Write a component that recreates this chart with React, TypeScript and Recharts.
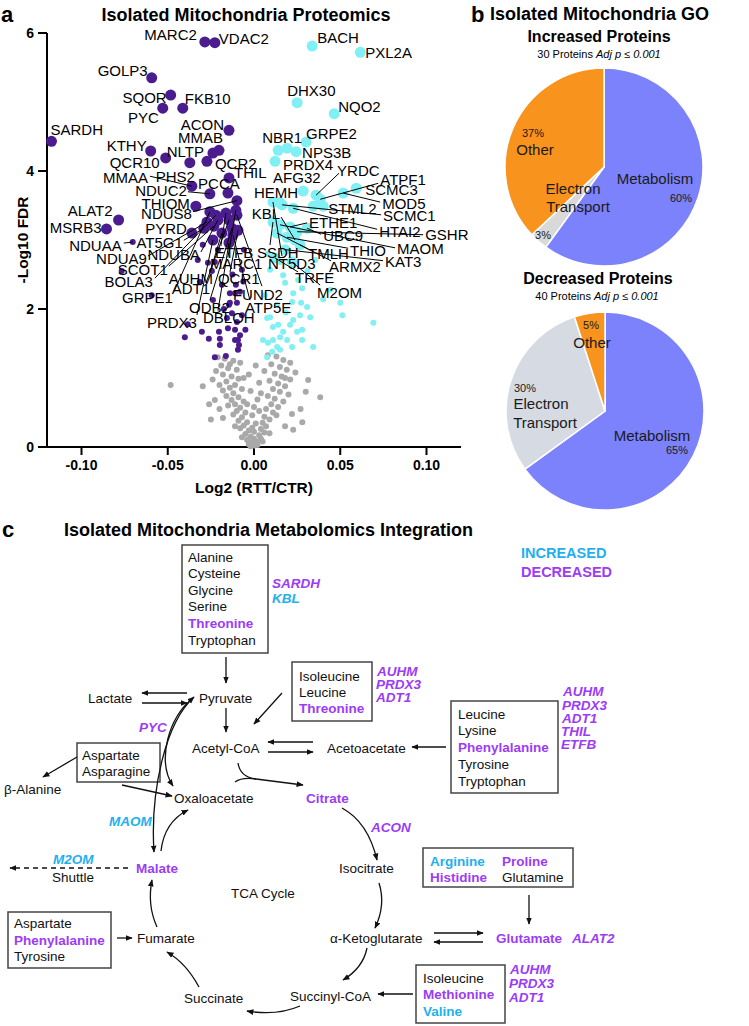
import React from 'react';
import { ScatterChart, Scatter, XAxis, YAxis, PieChart, Pie, Cell } from 'recharts';

const FONT = '"Liberation Sans", Arial, Helvetica, sans-serif';
const PURPLE = '#4a1c8e';
const CYAN = '#80f0f4';
const GRAY = '#a9a9a9';
const DEC = '#9b3cf7';
const INC = '#1fb0ee';

// ---------------- Panel a: volcano ----------------
const xTicks = [-0.1, -0.05, 0, 0.05, 0.1];
const yTicks = [0, 2, 4, 6];

const decreasedNamed: [string, number, number][] = [
  ['MARC2', -0.0285, 5.87], ['VDAC2', -0.0227, 5.86], ['GOLP3', -0.0593, 5.35],
  ['SQOR', -0.0483, 5.1], ['FKB10', -0.0413, 4.91], ['PYC', -0.0529, 4.91],
  ['SARDH', -0.1174, 4.43], ['ACON', -0.0145, 4.59], ['MMAB', -0.0203, 4.3],
  ['KTHY', -0.0599, 4.29], ['NLTP', -0.0238, 4.26], ['QCR10', -0.0512, 4.19],
  ['QCR2', -0.0273, 4.14], ['PHS2', -0.0372, 4.12], ['THIL', -0.0145, 3.9],
  ['MMAA', -0.036, 3.78], ['PCCA', -0.0151, 3.68], ['NDUC2', -0.0256, 3.67],
  ['NDUS8', -0.0099, 3.57], ['THIOM', -0.0337, 3.49], ['ALAT2', -0.0785, 3.29],
  ['MSRB3', -0.0855, 3.16], ['PYRD', -0.036, 3.1], ['NDUAA', -0.0703, 2.97],
  ['AT5G1', -0.0291, 3.17], ['NDUA9', -0.0273, 3.26], ['NDUBA', -0.0209, 3.29],
  ['SCOT1', -0.0233, 3.2], ['BOLA3', -0.0221, 3.36], ['AUHM', -0.0186, 3.1],
  ['GRPE1', -0.0256, 3.41], ['ADT1', -0.0145, 3.29], ['ODB2', -0.0128, 3.17],
  ['PRDX3', -0.0238, 3.0], ['DBLOH', -0.0145, 2.96], ['ETFB', -0.0163, 3.39],
  ['MARC1', -0.0105, 3.43], ['QCR1', -0.0093, 3.14], ['FUND2', -0.0099, 3.36],
  ['ATP5E', -0.0122, 3.07],
];

const increasedNamed: [string, number, number][] = [
  ['BACH', 0.0337, 5.81], ['PXL2A', 0.0616, 5.72], ['DHX30', 0.025, 4.99],
  ['NQO2', 0.0465, 4.83], ['GRPE2', 0.0302, 4.42], ['NBR1', 0.014, 4.3],
  ['NPS3B', 0.0244, 4.28], ['PRDX4', 0.0122, 4.14], ['YRDC', 0.036, 3.65],
  ['AFG32', 0.0151, 3.54], ['ATPF1', 0.0384, 3.59], ['HEMH', 0.0285, 3.71],
  ['SCMC3', 0.0593, 3.75], ['MOD5', 0.0517, 3.68], ['STML2', 0.0401, 3.49],
  ['SCMC1', 0.0163, 3.51], ['KBL', 0.0238, 3.0], ['ETHE1', 0.0209, 3.19],
  ['HTAI2', 0.0227, 3.46], ['GSHR', 0.025, 3.12], ['UBC9', 0.0308, 3.17],
  ['THIO', 0.0192, 3.04], ['MAOM', 0.0151, 3.22], ['TMLH', 0.0134, 3.1],
  ['SSDH', 0.011, 3.26], ['KAT3', 0.018, 2.86], ['NT5D3', 0.011, 3.55],
  ['ARMX2', 0.0267, 2.93], ['TRFE', 0.0122, 2.74], ['M2OM', 0.0221, 2.68],
  ['', 0.0192, 4.33], ['', 0.0343, 3.49],
];

const decreasedOther: [number, number][] = [
  [-0.0767, 2.55], [-0.0593, 2.2], [-0.0384, 1.78], [-0.0401, 1.59], [-0.0302, 1.67],
  [-0.0262, 1.57], [-0.0203, 1.67], [-0.0198, 1.57], [-0.0227, 1.3], [-0.0163, 1.32],
  [-0.0093, 1.41], [-0.0087, 1.48], [-0.0267, 2.67], [-0.014, 2.23], [-0.011, 2.23],
  [-0.014, 2.09], [-0.0099, 2.09], [-0.007, 1.91], [-0.0128, 1.94], [-0.0151, 1.72],
  [-0.011, 1.7], [-0.0093, 1.55], [-0.011, 1.55], [-0.0326, 2.71], [-0.0297, 2.93],
  [-0.0227, 2.68], [-0.0244, 2.55], [-0.0186, 2.35], [-0.0105, 2.35], [-0.0081, 2.25],
  [-0.0238, 2.13], [-0.0145, 2.06], [-0.0157, 1.87], [-0.0099, 1.81], [-0.0081, 1.62],
  [-0.0198, 1.48], [-0.0058, 2.86], [-0.007, 2.57], [-0.0314, 2.39], [-0.0209, 2.86],
  [-0.0175, 2.0], [-0.0062, 2.4], [-0.0125, 2.5], [-0.005, 1.7],
];

const increasedOther: [number, number][] = [
  [0.0076, 1.87], [0.0134, 2.06], [0.0169, 2.49], [0.0227, 2.23], [0.0273, 2.09],
  [0.0326, 1.88], [0.0343, 1.45], [0.0279, 1.7], [0.0192, 1.55], [0.0134, 1.45],
  [0.0076, 1.3], [0.011, 1.74], [0.0227, 1.84], [0.0169, 1.67], [0.0221, 1.45],
  [0.0279, 1.55], [0.011, 1.55], [0.0052, 1.55], [0.0151, 1.41], [0.018, 2.38],
  [0.05, 2.09], [0.0512, 1.91], [0.0692, 1.8], [0.0401, 2.14], [0.0279, 2.3],
  [0.0256, 2.42], [0.0221, 2.1], [0.0308, 2.03], [0.0267, 1.91], [0.025, 1.67],
  [0.0209, 1.77], [0.0093, 1.88], [0.014, 1.77], [0.0151, 1.59], [0.0105, 1.38],
  [0.0081, 1.51], [0.0093, 2.57], [0.0151, 2.68], [0.0355, 2.71], [0.0442, 2.28],
  [0.0062, 2.2], [0.0185, 1.95], [0.031, 2.55], [0.008, 2.8],
];

const unchanged: [number, number][] = [
  [-0.021, 1.3], [-0.017, 1.28], [-0.012, 1.25], [-0.008, 1.22], [-0.019, 1.18],
  [-0.015, 1.14], [-0.022, 1.1], [-0.01, 1.12], [-0.018, 1.05], [-0.013, 1.02],
  [-0.024, 0.98], [-0.009, 0.99], [-0.016, 0.95], [-0.02, 0.9], [-0.011, 0.9],
  [-0.014, 0.86], [-0.018, 0.82], [-0.007, 0.84], [-0.012, 0.78], [-0.016, 0.74],
  [-0.009, 0.72], [-0.013, 0.68], [-0.006, 0.66], [-0.011, 0.62], [-0.015, 0.6],
  [-0.008, 0.57], [-0.01, 0.52], [-0.005, 0.5], [-0.012, 0.47], [-0.007, 0.43],
  [-0.009, 0.38], [-0.004, 0.36], [-0.006, 0.31], [-0.008, 0.27], [-0.003, 0.24],
  [-0.005, 0.19], [-0.002, 0.15], [-0.004, 0.1], [-0.001, 0.07], [-0.003, 0.04],
  [0.0, 0.02], [-0.002, 0.01], [0.001, 0.05], [0.008, 1.33], [0.013, 1.31],
  [0.017, 1.26], [0.021, 1.22], [0.01, 1.2], [0.015, 1.16], [0.019, 1.12],
  [0.024, 1.08], [0.012, 1.06], [0.016, 1.02], [0.021, 0.98], [0.009, 0.96],
  [0.014, 0.92], [0.018, 0.88], [0.011, 0.84], [0.015, 0.8], [0.02, 0.76],
  [0.008, 0.74], [0.012, 0.7], [0.017, 0.66], [0.01, 0.62], [0.014, 0.58],
  [0.007, 0.55], [0.011, 0.5], [0.013, 0.46], [0.006, 0.44], [0.009, 0.4],
  [0.005, 0.35], [0.007, 0.3], [0.004, 0.26], [0.006, 0.21], [0.003, 0.17],
  [0.004, 0.12], [0.002, 0.08], [0.002, 0.03], [0.001, 1.18], [-0.003, 1.05],
  [0.003, 0.93], [-0.002, 0.81], [0.002, 0.69], [0.0, 0.58], [-0.001, 0.46],
  [0.003, 0.52], [0.001, 0.34], [0.0, 0.22], [-0.004, 0.62], [0.004, 0.78],
  [-0.0483, 0.9], [-0.0297, 0.88], [-0.0227, 0.68], [0.0227, 0.25], [0.0384, 0.72],
  [0.0314, 0.97], [0.027, 0.55], [0.03, 0.8], [-0.026, 0.62], [-0.025, 0.4],
  [0.028, 0.36], [0.018, 0.3], [-0.018, 0.42], [-0.02, 0.55], [0.022, 0.48],
  [-0.014, 1.2], [-0.006, 1.0], [0.006, 1.1], [0.018, 1.0], [-0.011, 0.3],
  [0.009, 0.2], [-0.007, 0.14], [0.005, 0.08], [0.0, 0.12], [-0.001, 0.28],
];

// label placement (pixel offsets from the point): dx, dy, anchor, leader start dx, dy
type LL = [number, number, 'start' | 'end' | 'middle', number?, number?];
const labelLayout: Record<string, LL> = {
  MARC2: [-8, -7, 'end'], VDAC2: [4, -4, 'start'], GOLP3: [-4, -7, 'end'], SQOR: [-4, 2, 'end'],
  FKB10: [2, -10, 'start'], PYC: [-4, 9, 'end'], SARDH: [-1, -12, 'start'], ACON: [-5, -6, 'end'],
  MMAB: [4, -13, 'end'], KTHY: [-4, -5, 'end'], NLTP: [-9, -2, 'end'], QCR10: [-6, 5, 'end'],
  QCR2: [8, 2, 'start'], PHS2: [5, 14, 'end'], THIL: [5, -5, 'start'], MMAA: [-44, -9, 'end', -42, -10],
  PCCA: [-9, -10, 'middle'], NDUC2: [-23, -3, 'end', -22, -2], NDUS8: [-45, 13, 'end', -44, 11],
  THIOM: [-6, -3, 'end'], ALAT2: [-6, -9, 'end'], MSRB3: [-5, -1, 'end'], PYRD: [-5, -5, 'end'],
  NDUAA: [-11, 3, 'end', -9, 1], AT5G1: [-21, 14, 'end', -20, 12], NDUA9: [-60, 36, 'end', -59, 34],
  NDUBA: [-18, 35, 'end', -17, 32], SCOT1: [-46, 43, 'end', -45, 40], BOLA3: [-63, 66, 'end', -61, 63],
  AUHM: [-9, 45, 'end', -12, 39], GRPE1: [-37, 86, 'end', -36, 80], ADT1: [-19, 69, 'end', -23, 63],
  ODB2: [-2, 79, 'end', -22, 72], PRDX3: [-16, 82, 'end', -16, 75], DBLOH: [-26, 75, 'start', -11, 68],
  ETFB: [-11, 39, 'start', -5, 33], MARC1: [-26, 53, 'start', -8, 47], QCR1: [-20, 48, 'start', -8, 42],
  FUND2: [-4, 79, 'start', 25, 71], ATP5E: [12, 72, 'start', 17, 65],
  BACH: [5, -9, 'start'], PXL2A: [5, 0, 'start'], DHX30: [-10, -12, 'start'], NQO2: [4, -7, 'start'],
  GRPE2: [0, -9, 'start'], NBR1: [-16, -13, 'start'], NPS3B: [6, 1, 'start'], PRDX4: [8, 3, 'start'],
  YRDC: [21, -25, 'start', 23, -22], AFG32: [-7, -25, 'start'], ATPF1: [60, -20, 'start', 58, -16],
  HEMH: [-5, 1, 'end'], SCMC3: [9, 1, 'start'], MOD5: [39, 10, 'start', 37, 9], STML2: [5, 2, 'start'],
  SCMC1: [101, 11, 'start', 99, 10], KBL: [-15, -27, 'end', -14, -23], ETHE1: [19, -4, 'start', 17, -4],
  HTAI2: [86, 23, 'start', 84, 21], GSHR: [128, 3, 'start', 126, 3], UBC9: [16, 7, 'start', 14, 6],
  THIO: [63, 13, 'start', 61, 11], MAOM: [117, 24, 'start', 115, 23], TMLH: [31, 20, 'start', 31, 16],
  SSDH: [-16, 30, 'start', -3, 23], KAT3: [100, 12, 'start', 98, 11], NT5D3: [-5, 61, 'start', 9, 54],
  ARMX2: [29, 22, 'start', 31, 16], TRFE: [20, 20, 'start', 23, 14], M2OM: [25, 30, 'start', 28, 23],
};
const smallNamed = new Set(['NDUAA']);

const toObjs = (a: [number, number][]) => a.map(([x, y]) => ({ x, y }));
const toNamed = (a: [string, number, number][]) => a.map(([name, x, y]) => ({ name, x, y }));

const dot = (color: string, r: number) => (p: any) =>
  <circle cx={p.cx} cy={p.cy} r={r} fill={color} />;
const bigDot = (color: string) => (p: any) =>
  <circle cx={p.cx} cy={p.cy} r={smallNamed.has(p.payload.name) ? 3 : 5.5} fill={color} />;
const labelShape = (p: any) => {
  const L = labelLayout[p.payload.name];
  if (!L) return <g />;
  const [dx, dy, anchor, sx, sy] = L;
  return (
    <g>
      {sx !== undefined && (
        <line x1={p.cx + sx} y1={p.cy + (sy as number)} x2={p.cx} y2={p.cy} stroke="#000" strokeWidth={1} />
      )}
      <text x={p.cx + dx} y={p.cy + dy} textAnchor={anchor} dominantBaseline="central"
        fontSize={15} fontFamily={FONT} fill="#000">{p.payload.name}</text>
    </g>
  );
};

// ---------------- Panel b: pies ----------------
const goCategories = ['Metabolism', 'Electron Transport', 'Other'];
const increasedShares = [60, 3, 37];
const decreasedShares = [65, 30, 5];
const increasedCount = 30;
const decreasedCount = 40;

const pie1Layout = [
  { name: [[51, 11]], pct: [77, 31] },
  { name: [[-31, 21], [-26, 39]], pct: [-61, 68] },
  { name: [[-69, -18]], pct: [-71, -34] },
];
const pie2Layout = [
  { name: [[47, 24]], pct: [72, 39] },
  { name: [[-64, -8], [-60, 11]], pct: [-80, -23] },
  { name: [[-13, -69]], pct: [-14, -86] },
];

const pieLabel = (layout: any[]) => (p: any) => {
  const L = layout[p.index];
  const words = String(p.payload.name).split(' ');
  const lines = L.name.length === 1 ? [words.join(' ')] : words;
  return (
    <g>
      {lines.map((w: string, i: number) => (
        <text key={i} x={p.cx + L.name[i][0]} y={p.cy + L.name[i][1]} textAnchor="middle"
          dominantBaseline="central" fontSize={15} fontFamily={FONT} fill="#1a1a1a">{w}</text>
      ))}
      <text x={p.cx + L.pct[0]} y={p.cy + L.pct[1]} textAnchor="middle" dominantBaseline="central"
        fontSize={11} fontFamily={FONT} fill="#1a1a1a">{p.payload.value}%</text>
    </g>
  );
};

function GoPie({ shares, layout, etColor }: { shares: number[]; layout: any[]; etColor: string }) {
  const data = goCategories.map((name, i) => ({ name, value: shares[i] }));
  const colors = ['#7b82fc', etColor, '#f8931d'];
  return (
    <PieChart width={260} height={230}>
      <Pie data={data} dataKey="value" nameKey="name" cx={129} cy={112} outerRadius={99}
        startAngle={90} endAngle={-270} stroke="#fff" strokeWidth={1.5}
        isAnimationActive={false} label={pieLabel(layout)} labelLine={false}>
        {data.map((d, i) => <Cell key={d.name} fill={colors[i]} />)}
      </Pie>
    </PieChart>
  );
}

// ---------------- Panel c: pathway diagram ----------------
type DT = [string, number, number, 'n' | 'inc' | 'dec' | 'ginc' | 'gdec'];
const diagramTexts: DT[] = [
  ['Alanine', 188, 557, 'n'], ['Cysteine', 188, 573, 'n'], ['Glycine', 188, 590, 'n'],
  ['Serine', 188, 606, 'n'], ['Threonine', 188, 623, 'dec'], ['Tryptophan', 188, 640, 'n'],
  ['SARDH', 272, 583, 'gdec'], ['KBL', 272, 598, 'ginc'],
  ['Pyruvate', 199, 698, 'n'], ['Lactate', 88, 698, 'n'], ['Acetyl-CoA', 192, 748, 'n'],
  ['Acetoacetate', 327, 748, 'n'],
  ['Isoleucine', 299, 676, 'n'], ['Leucine', 299, 692, 'n'], ['Threonine', 299, 708, 'dec'],
  ['AUHM', 377, 671, 'gdec'], ['PRDX3', 376, 684, 'gdec'], ['ADT1', 376, 697, 'gdec'],
  ['PYC', 139, 727, 'gdec'],
  ['Leucine', 458, 714, 'n'], ['Lysine', 458, 730, 'n'], ['Phenylalanine', 458, 747, 'dec'],
  ['Tyrosine', 458, 764, 'n'], ['Tryptophan', 458, 781, 'n'],
  ['AUHM', 563, 691, 'gdec'], ['PRDX3', 562, 705, 'gdec'], ['ADT1', 562, 718, 'gdec'],
  ['THIL', 561, 731, 'gdec'], ['ETFB', 561, 744, 'gdec'],
  ['Aspartate', 82, 755, 'n'], ['Asparagine', 82, 771, 'n'],
  ['β-Alanine', 4, 789, 'n'], ['Oxaloacetate', 174, 798, 'n'], ['Citrate', 306, 798, 'dec'],
  ['MAOM', 109, 821, 'ginc'], ['ACON', 371, 827, 'gdec'],
  ['M2OM', 53, 859, 'ginc'], ['Shuttle', 52, 877, 'n'], ['Malate', 136, 868, 'dec'],
  ['Isocitrate', 339, 868, 'n'], ['TCA Cycle', 231, 893, 'n'],
  ['Arginine', 430, 861, 'inc'], ['Histidine', 430, 877, 'dec'], ['Proline', 502, 861, 'dec'],
  ['Glutamine', 502, 877, 'n'],
  ['Aspartate', 14, 923, 'n'], ['Phenylalanine', 14, 940, 'dec'], ['Tyrosine', 14, 956, 'n'],
  ['Fumarate', 137, 938, 'n'], ['α-Ketoglutarate', 330, 938, 'n'], ['Glutamate', 496, 938, 'dec'],
  ['ALAT2', 572, 938, 'gdec'],
  ['Isoleucine', 423, 978, 'n'], ['Methionine', 423, 994, 'dec'], ['Valine', 423, 1011, 'inc'],
  ['AUHM', 510, 969, 'gdec'], ['PRDX3', 509, 983, 'gdec'], ['ADT1', 509, 997, 'gdec'],
  ['Succinate', 184, 998, 'n'], ['Succinyl-CoA', 290, 996, 'n'],
];
const diagramBoxes: [number, number, number, number][] = [
  [182, 545, 86, 108], [292, 662, 80, 59], [451, 701, 107, 92], [77, 743, 83, 39],
  [423, 848, 150, 39], [416, 965, 89, 58], [8, 912, 103, 56],
];
type AR = [string, boolean, boolean, boolean]; // path, start arrow, end arrow, dashed
const diagramArrows: AR[] = [
  ['M226,657 L226,683', false, true, false],
  ['M187,693 L142,693', false, true, false],
  ['M142,703 L187,703', false, true, false],
  ['M226,708 L226,732', false, true, false],
  ['M282,693 L254,724', false, true, false],
  ['M313,742 L268,742', false, true, false],
  ['M268,752 L313,752', false, true, false],
  ['M446,747 L412,747', false, true, false],
  ['M77,757 L43,777', false, true, false],
  ['M122,785 L172,796', false, true, false],
  ['M191,700 C170,716 156,760 173,786', false, true, false],
  ['M194,697 C166,722 150,790 154,852', true, true, false],
  ['M161,851 C163,833 172,818 188,810', false, true, false],
  ['M238,763 Q240,777 256,779 L303,785', false, true, false],
  ['M235,782 Q242,777 256,779', false, false, false],
  ['M342,808 Q368,822 377,860', false, true, false],
  ['M379,883 Q386,905 375,928', false, true, false],
  ['M529,895 L529,924', false, true, false],
  ['M434,933 L483,933', false, true, false],
  ['M483,942 L434,942', false, true, false],
  ['M367,948 Q363,968 343,980', false, true, false],
  ['M413,994 L378,994', false, true, false],
  ['M300,1006 Q277,1016 247,1011', false, true, false],
  ['M199,987 Q186,963 167,952', false, true, false],
  ['M117,938 L132,938', false, true, false],
  ['M157,927 Q147,905 152,880', false, true, false],
  ['M128,868 L10,868', false, true, true],
];

const colorOf = (k: string) => (k === 'inc' || k === 'ginc' ? INC : k === 'dec' || k === 'gdec' ? DEC : '#111');

function Overlay() {
  return (
    <svg width={749} height={1026} style={{ position: 'absolute', left: 0, top: 0 }}>
      <defs>
        <marker id="ah" viewBox="0 0 10 10" refX="9" refY="5" markerWidth="5.5" markerHeight="5.5" orient="auto-start-reverse">
          <path d="M0,1 L10,5 L0,9 z" fill="#111" />
        </marker>
      </defs>
      <g fontFamily={FONT} fill="#000">
        <text x={1} y={14} fontSize={22} fontWeight="bold" dominantBaseline="central">a</text>
        <text x={246} y={15} fontSize={18} fontWeight="bold" textAnchor="middle" dominantBaseline="central">Isolated Mitochondria Proteomics</text>
        <text x={471} y={14} fontSize={22} fontWeight="bold" dominantBaseline="central">b</text>
        <text x={490} y={14} fontSize={18} fontWeight="bold" dominantBaseline="central">Isolated Mitochondria GO</text>
        <text x={599} y={36} fontSize={16} fontWeight="bold" textAnchor="middle" dominantBaseline="central">Increased Proteins</text>
        <text x={599} y={54} fontSize={11} textAnchor="middle" dominantBaseline="central">
          <tspan>{increasedCount} Proteins </tspan><tspan fontStyle="italic">Adj p ≤ 0.001</tspan>
        </text>
        <text x={598} y={278} fontSize={16} fontWeight="bold" textAnchor="middle" dominantBaseline="central">Decreased Proteins</text>
        <text x={597} y={296} fontSize={11} textAnchor="middle" dominantBaseline="central">
          <tspan>{decreasedCount} Proteins </tspan><tspan fontStyle="italic">Adj p ≤ 0.001</tspan>
        </text>
        <text x={2} y={529} fontSize={22} fontWeight="bold" dominantBaseline="central">c</text>
        <text x={64} y={530} fontSize={18} fontWeight="bold" dominantBaseline="central">Isolated Mitochondria Metabolomics Integration</text>
        <text x={521} y={553} fontSize={14.5} fontWeight="bold" fill={INC} dominantBaseline="central">INCREASED</text>
        <text x={521} y={572} fontSize={14.5} fontWeight="bold" fill={DEC} dominantBaseline="central">DECREASED</text>
      </g>
      <g fill="none" stroke="#444" strokeWidth={1.5}>
        {diagramBoxes.map(([x, y, w, h], i) => <rect key={i} x={x} y={y} width={w} height={h} />)}
      </g>
      <g fill="none" stroke="#111" strokeWidth={1.3}>
        {diagramArrows.map(([d, s, e, dash], i) => (
          <path key={i} d={d} markerStart={s ? 'url(#ah)' : undefined} markerEnd={e ? 'url(#ah)' : undefined}
            strokeDasharray={dash ? '5 4' : undefined} />
        ))}
      </g>
      <g fontFamily={FONT}>
        {diagramTexts.map(([t, x, y, k], i) => (
          <text key={i} x={x} y={y} fontSize={13.5} dominantBaseline="central"
            fill={colorOf(k)} fontWeight={k === 'n' ? 'normal' : 'bold'}
            fontStyle={k === 'ginc' || k === 'gdec' ? 'italic' : 'normal'}>{t}</text>
        ))}
      </g>
    </svg>
  );
}

const axisTick = { fill: '#000', fontSize: 14, fontWeight: 'bold', fontFamily: FONT };

export default function App() {
  const dNamed = toNamed(decreasedNamed);
  const iNamed = toNamed(increasedNamed);
  return (
    <div style={{ position: 'absolute', left: 0, top: 0, width: 749, height: 1026, background: '#fff', fontFamily: FONT }}>
      <div style={{ position: 'absolute', left: 0, top: 0 }}>
        <ScatterChart width={470} height={502} margin={{ top: 33, right: 9, bottom: 0, left: 0 }}>
          <XAxis type="number" dataKey="x" domain={[-0.12, 0.12]} ticks={xTicks} height={55}
            tickFormatter={(v: number) => v.toFixed(2)} tick={axisTick}
            axisLine={{ stroke: '#000', strokeWidth: 2 }} tickLine={{ stroke: '#000', strokeWidth: 2 }}
            tickSize={8} tickMargin={5}
            label={{ value: 'Log2 (RTT/CTR)', position: 'insideBottom', offset: 9,
              style: { fill: '#000', fontSize: 15.5, fontWeight: 'bold', fontFamily: FONT } }} />
          <YAxis type="number" dataKey="y" domain={[0, 6]} ticks={yTicks} width={47}
            tick={axisTick} axisLine={{ stroke: '#000', strokeWidth: 2 }}
            tickLine={{ stroke: '#000', strokeWidth: 2 }} tickSize={9} tickMargin={4}
            label={{ value: '-Log10 FDR', angle: -90, position: 'insideLeft', offset: 22,
              style: { textAnchor: 'middle', fill: '#000', fontSize: 15.5, fontWeight: 'bold', fontFamily: FONT } }} />
          <Scatter data={toObjs(unchanged)} shape={dot(GRAY, 3)} isAnimationActive={false} />
          <Scatter data={toObjs(decreasedOther)} shape={dot(PURPLE, 3)} isAnimationActive={false} />
          <Scatter data={toObjs(increasedOther)} shape={dot(CYAN, 3)} isAnimationActive={false} />
          <Scatter data={dNamed} shape={bigDot(PURPLE)} isAnimationActive={false} />
          <Scatter data={iNamed} shape={bigDot(CYAN)} isAnimationActive={false} />
          <Scatter data={dNamed} shape={labelShape} isAnimationActive={false} />
          <Scatter data={iNamed} shape={labelShape} isAnimationActive={false} />
        </ScatterChart>
      </div>
      <div style={{ position: 'absolute', left: 470, top: 50 }}>
        <GoPie shares={increasedShares} layout={pie1Layout} etColor="#d9d9d9" />
      </div>
      <div style={{ position: 'absolute', left: 471, top: 294 }}>
        <GoPie shares={decreasedShares} layout={pie2Layout} etColor="#d5dae3" />
      </div>
      <Overlay />
    </div>
  );
}
